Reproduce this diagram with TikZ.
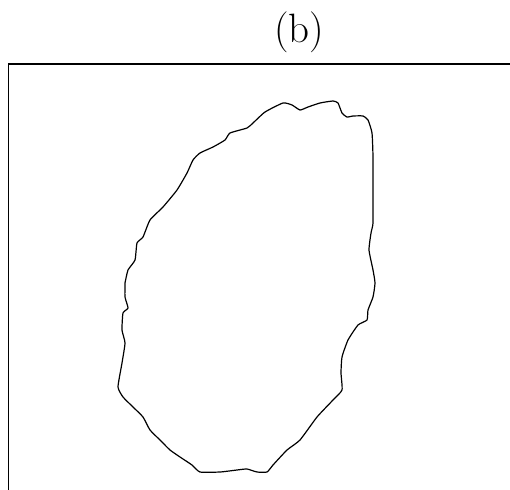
\documentclass[tikz,border=0pt]{standalone}
\begin{document}
\begin{tikzpicture}[x=1pt,y=-1pt,
  frame/.style={line width=1.3pt,line cap=rect},
  blob/.style={line width=1.2pt,line join=round}]
\useasboundingbox (0,0) rectangle (510,489);
\node[anchor=base,inner sep=0pt,font=\fontsize{41}{48}\selectfont] (title) at (299,43) {(b)};
\draw[frame] (8.5,489) -- (8.5,64) -- (510,64);
\draw[blob] plot[smooth,tension=0.3] coordinates {
(125,283) (128,270) (135,260) (137,243) (143,237) (150,220) (163,207) (177,190) (187,173) (193,160) (200,153) (213,147) (225,140) (230,133) (247,128) (253,123) (265,112) (283,103) (292,105) (300,110) (308,107) (320,103) (333,101) (338,103) (342,113) (347,117) (353,116) (363,116) (368,120) (372,133) (373,157) (373,190) (373,223) (371,233) (369,250) (373,270) (375,283) (373,297) (368,310) (367,320) (358,325) (348,340) (342,357) (341,373) (342,390) (333,400) (317,417) (300,440) (287,450) (273,465) (267,472) (257,472) (247,469) (237,470) (220,472) (200,472) (192,465) (180,457) (170,450) (160,440) (150,430) (143,417) (133,407) (123,397) (118,387) (122,363) (125,343) (122,330) (123,313) (128,308) (125,297) (125,283)};
\end{tikzpicture}
\end{document}
